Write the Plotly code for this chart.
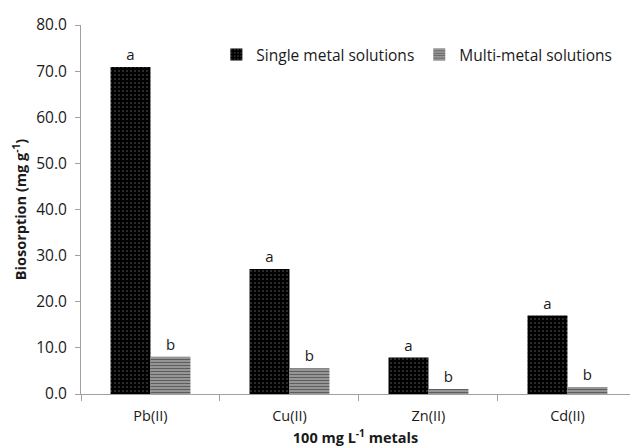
import plotly.graph_objects as go

# Metal ions tested at 100 mg/L
metals = ["Pb(II)", "Cu(II)", "Zn(II)", "Cd(II)"]

# Biosorption capacity (mg/g)
single_metal = [70.9, 27.1, 7.9, 17.0]
multi_metal = [8.1, 5.6, 1.1, 1.5]

# Significance letters shown above each bar
single_letters = ["a", "a", "a", "a"]
multi_letters = ["b", "b", "b", "b"]

y_ticks = [0, 10, 20, 30, 40, 50, 60, 70, 80]

FONT = "'Open Sans', sans-serif"
TXT = "#1a1a1a"

fig = go.Figure()
fig.add_trace(go.Bar(
    name="Single metal solutions",
    x=metals, y=single_metal,
    text=single_letters, textposition="outside",
    textfont=dict(size=15, color=TXT, family=FONT),
    cliponaxis=False,
    marker=dict(
        color="black",
        line=dict(width=0),
        pattern=dict(shape=".", fgcolor="#dddddd", bgcolor="black",
                     size=4, solidity=0.1, fillmode="overlay"),
    ),
))
fig.add_trace(go.Bar(
    name="Multi-metal solutions",
    x=metals, y=multi_metal,
    text=multi_letters, textposition="outside",
    textfont=dict(size=15, color=TXT, family=FONT),
    cliponaxis=False,
    marker=dict(
        color="#777777",
        line=dict(width=0),
        pattern=dict(shape="-", fgcolor="#111111", bgcolor="#a8a8a8",
                     size=3, solidity=0.5, fillmode="overlay"),
    ),
))

fig.update_layout(
    width=630, height=448,
    margin=dict(l=81, r=0, t=25, b=54),
    paper_bgcolor="white", plot_bgcolor="white",
    font=dict(family=FONT, size=14, color=TXT),
    barmode="group",
    bargap=0.425, bargroupgap=0,
    showlegend=True,
    legend=dict(
        orientation="h",
        x=0.977, xanchor="right", y=0.965, yanchor="top",
        font=dict(size=15.5, color=TXT),
        bgcolor="rgba(0,0,0,0)",
        itemwidth=30,
        traceorder="normal",
    ),
)

fig.update_xaxes(
    range=[-0.5, 3.45],
    showline=True, linecolor="#a0a0a0", linewidth=1,
    ticks="outside", tickson="boundaries", ticklen=6, tickcolor="#a0a0a0",
    ticklabelstandoff=9,
    showgrid=False, automargin=False,
    tickfont=dict(size=14.5, color=TXT),
    title=dict(text="<b>100 mg L<sup>-1</sup> metals</b>", standoff=8,
               font=dict(size=14.5, color=TXT)),
)
fig.update_yaxes(
    range=[0, 80],
    tickvals=y_ticks,
    ticktext=[f"{v:.1f}" for v in y_ticks],
    showline=True, linecolor="#a0a0a0", linewidth=1,
    ticks="outside", ticklen=5, tickcolor="#a0a0a0",
    ticklabelstandoff=5,
    showgrid=False, zeroline=False, automargin=False,
    tickfont=dict(size=15.5, color=TXT),
    title=dict(text="<b>Biosorption (mg g<sup>-1</sup>)</b>", standoff=6,
               font=dict(size=14.5, color=TXT)),
)

fig.write_html("out.html")
